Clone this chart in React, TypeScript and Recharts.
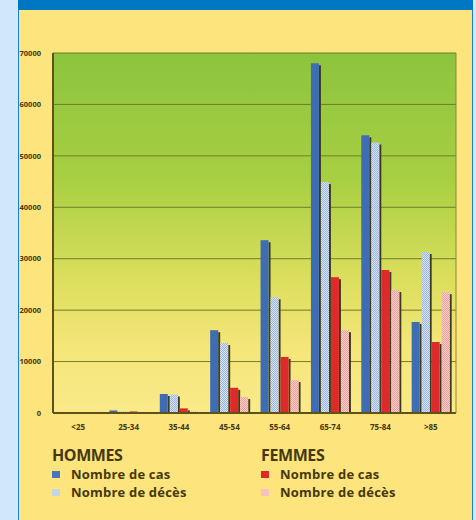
import { BarChart, Bar, XAxis, YAxis, CartesianGrid } from 'recharts'

const AGE_GROUPS = ['<25', '25-34', '35-44', '45-54', '55-64', '65-74', '75-84', '>85']
const HOMMES_CAS = [100, 500, 3700, 16100, 33600, 68000, 54000, 17700]
const HOMMES_DECES = [50, 300, 3600, 13600, 22500, 44900, 52600, 31300]
const FEMMES_CAS = [60, 300, 900, 4900, 10900, 26400, 27800, 13800]
const FEMMES_DECES = [20, 100, 300, 3100, 6400, 16100, 23900, 23500]
const Y_TICKS = [0, 10000, 20000, 30000, 40000, 50000, 60000, 70000]

const data = AGE_GROUPS.map((age, i) => ({
  age,
  hCas: HOMMES_CAS[i],
  hDeces: HOMMES_DECES[i],
  fCas: FEMMES_CAS[i],
  fDeces: FEMMES_DECES[i],
}))

const OLIVE = '#5e5216'
const TEXT = '#45380e'

// bar with a small dark drop shadow on its right side
function ShadowBar(props: any) {
  const { x, y, width, height, fill } = props
  if (!height || height <= 0) return null
  const w = Math.max(width - 2, 1)
  return (
    <g>
      <rect x={x + w} y={y + 2} width={2} height={Math.max(height - 2, 0)} fill="#3b3a1c" />
      <rect x={x} y={y} width={w} height={height} fill={fill} />
    </g>
  )
}

const itemStyle = { display: 'flex', alignItems: 'center', fontSize: 13, lineHeight: '16px', fontWeight: 700, letterSpacing: 0.2 } as const
const swatch = (bg: string) => ({ width: 8, height: 7, background: bg, marginRight: 11, display: 'inline-block' })

export default function App() {
  return (
    <div style={{ position: 'relative', width: 476, height: 520, background: '#cfe8fa', fontFamily: '"Open Sans", sans-serif', overflow: 'hidden' }}>
      <style>{`body{margin:0}`}</style>
      {/* yellow panel */}
      <div style={{ position: 'absolute', left: 18, top: 0, width: 455, height: 520, background: '#fde47c', borderLeft: '1px solid #1a7fd0', borderRight: '1px solid #1a7fd0', boxSizing: 'border-box' }} />
      <div style={{ position: 'absolute', left: 18, top: 0, width: 455, height: 10, background: '#0077c2' }} />
      <div style={{ position: 'absolute', left: 0, top: 0 }}>
        <BarChart
          width={476}
          height={440}
          data={data}
          margin={{ top: 53, right: 19, bottom: 7, left: 0 }}
          barCategoryGap="12%"
          barGap={0}
        >
          <defs>
            <linearGradient id="plotBg" x1="0" y1="0" x2="0" y2="1">
              <stop offset="0%" stopColor="#8cc43e" />
              <stop offset="35%" stopColor="#a8cf42" />
              <stop offset="62%" stopColor="#dade5c" />
              <stop offset="82%" stopColor="#f5e679" />
              <stop offset="100%" stopColor="#faea8a" />
            </linearGradient>
            <pattern id="checkBlue" width="2" height="2" patternUnits="userSpaceOnUse">
              <rect width="2" height="2" fill="#d6e2f3" />
              <rect width="1" height="1" fill="#9bb6e0" />
              <rect x="1" y="1" width="1" height="1" fill="#9bb6e0" />
            </pattern>
            <pattern id="checkPink" width="2" height="2" patternUnits="userSpaceOnUse">
              <rect width="2" height="2" fill="#fbd3cf" />
              <rect width="1" height="1" fill="#f19a98" />
              <rect x="1" y="1" width="1" height="1" fill="#f19a98" />
            </pattern>
          </defs>
          <CartesianGrid yAxisId="l" vertical={false} stroke="#6f7d2a" strokeWidth={1} fill="url(#plotBg)" fillOpacity={1} />
          <XAxis
            dataKey="age"
            height={20}
            axisLine={{ stroke: OLIVE, strokeWidth: 2 }}
            tickLine={false}
            tick={{ fill: TEXT, fontSize: 8, fontWeight: 700 }}
            tickMargin={5}
          />
          <YAxis
            yAxisId="l"
            width={53}
            domain={[0, 70000]}
            ticks={Y_TICKS}
            interval={0}
            axisLine={{ stroke: OLIVE, strokeWidth: 2 }}
            tickLine={false}
            tick={{ fill: TEXT, fontSize: 7.5, fontWeight: 700 }}
            tickMargin={6}
          />
          <YAxis yAxisId="r" orientation="right" width={1} domain={[0, 70000]} tick={false} tickLine={false} axisLine={{ stroke: '#8a8a30', strokeWidth: 1 }} />
          <Bar yAxisId="l" dataKey="hCas" fill="#3e6db5" shape={ShadowBar} isAnimationActive={false} />
          <Bar yAxisId="l" dataKey="hDeces" fill="url(#checkBlue)" shape={ShadowBar} isAnimationActive={false} />
          <Bar yAxisId="l" dataKey="fCas" fill="#df2a2c" shape={ShadowBar} isAnimationActive={false} />
          <Bar yAxisId="l" dataKey="fDeces" fill="url(#checkPink)" shape={ShadowBar} isAnimationActive={false} />
        </BarChart>
      </div>
      {/* legend */}
      <div style={{ position: 'absolute', left: 52, top: 444, color: TEXT }}>
        <div style={{ fontSize: 16, lineHeight: '22px', fontWeight: 700, letterSpacing: -0.4 }}>HOMMES</div>
        <div style={itemStyle}>
          <span style={swatch('#4a74bd')} />Nombre de cas
        </div>
        <div style={{ ...itemStyle, marginTop: 2 }}>
          <span style={swatch('#c6d4ea')} />Nombre de décès
        </div>
      </div>
      <div style={{ position: 'absolute', left: 261, top: 444, color: TEXT }}>
        <div style={{ fontSize: 16, lineHeight: '22px', fontWeight: 700, letterSpacing: -0.4 }}>FEMMES</div>
        <div style={itemStyle}>
          <span style={swatch('#e0282b')} />Nombre de cas
        </div>
        <div style={{ ...itemStyle, marginTop: 2 }}>
          <span style={swatch('#f6c3c0')} />Nombre de décès
        </div>
      </div>
    </div>
  )
}
